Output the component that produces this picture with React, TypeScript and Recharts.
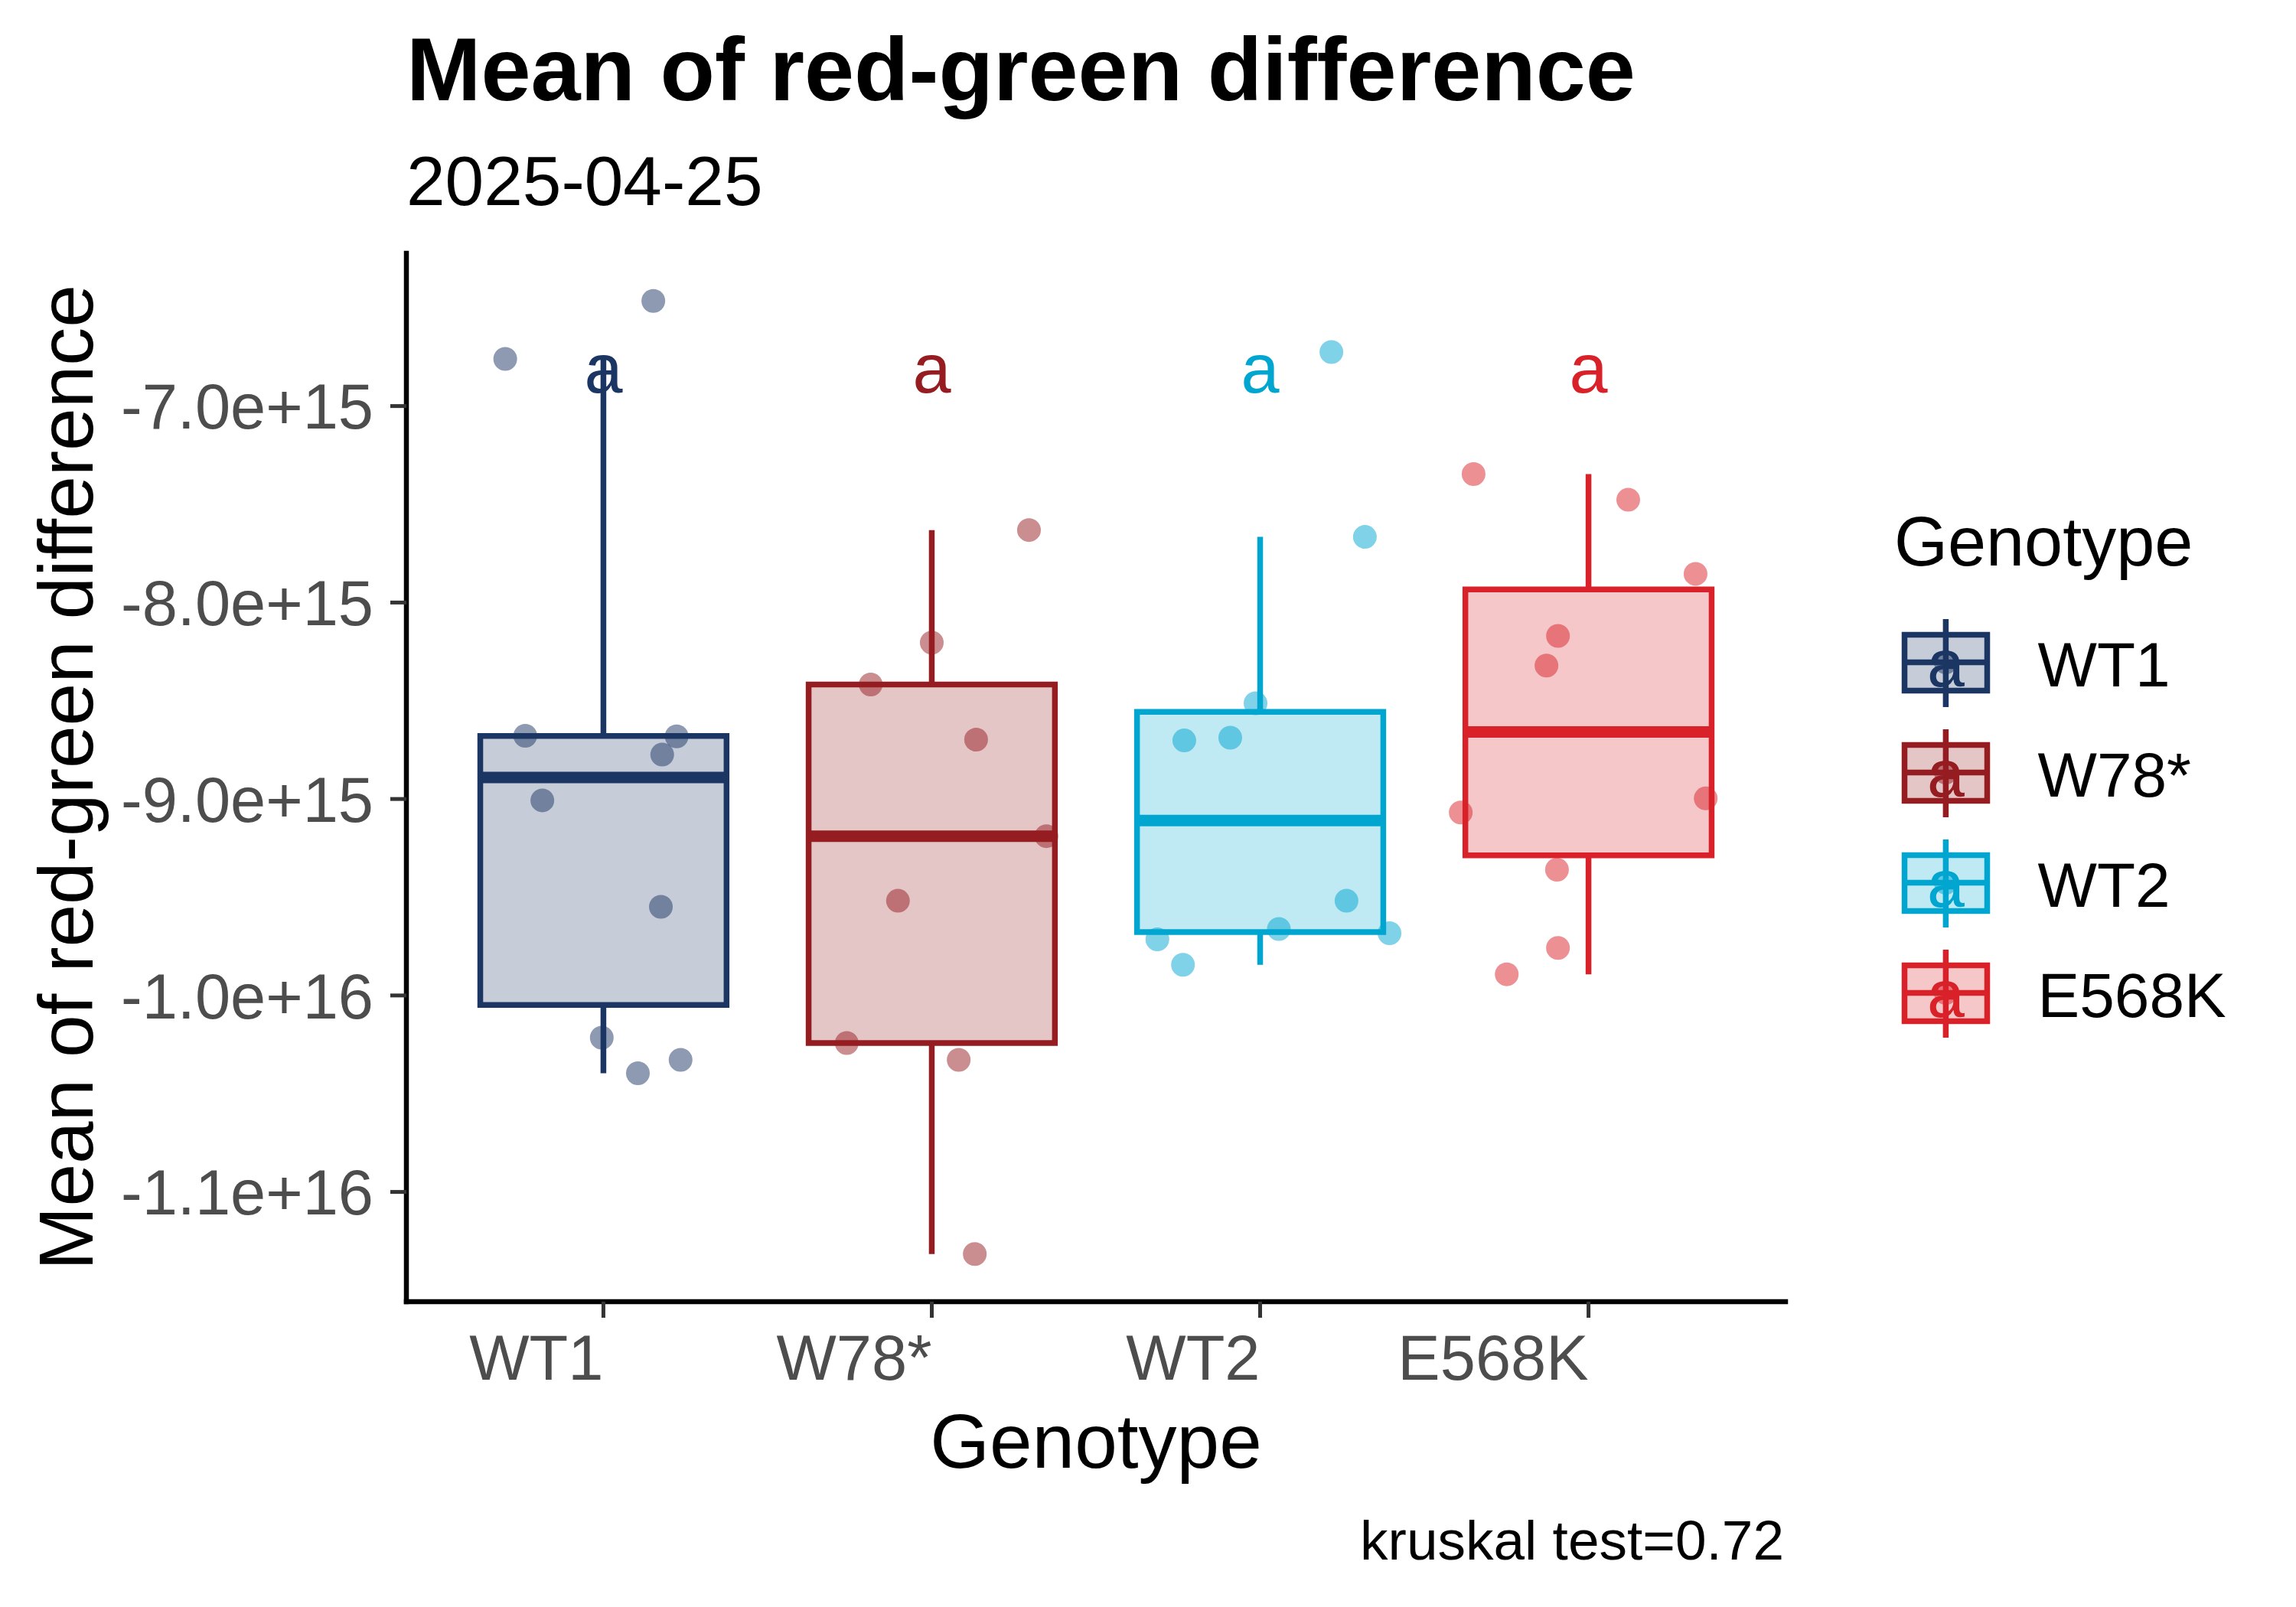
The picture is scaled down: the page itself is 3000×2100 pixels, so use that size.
import React from 'react';
import { ComposedChart, XAxis, YAxis, Scatter, ReferenceArea, ReferenceLine, Legend } from 'recharts';

const FONT = "'Liberation Sans', Arial, sans-serif";

const genotypes = ['WT1', 'W78*', 'WT2', 'E568K'];
const colors = ['#1c3664', '#951c21', '#00a6cf', '#d92129'];
const letters = ['a', 'a', 'a', 'a'];

// values in units of 1e15, jitter offsets in category units
const wt1Values = [-6.76, -6.465, -8.678, -8.681, -8.774, -9.007, -9.549, -10.215, -10.396, -10.328];
const wt1Jitter = [-0.299, 0.152, -0.238, 0.223, 0.179, -0.186, 0.175, -0.005, 0.105, 0.235];
const w78Values = [-7.631, -8.204, -8.417, -8.698, -9.189, -9.518, -10.242, -10.328, -11.316];
const w78Jitter = [0.296, 0.0, -0.186, 0.135, 0.349, -0.103, -0.259, 0.082, 0.131];
const wt2Values = [-6.725, -7.666, -8.513, -8.702, -8.688, -9.518, -9.662, -9.714, -9.683, -9.844];
const wt2Jitter = [0.217, 0.319, -0.014, -0.231, -0.091, 0.263, 0.057, -0.313, 0.394, -0.235];
const e568kValues = [-7.346, -7.477, -7.854, -8.17, -8.321, -9.069, -8.997, -9.36, -9.758, -9.892];
const e568kJitter = [-0.35, 0.121, 0.326, -0.093, -0.128, -0.389, 0.357, -0.096, -0.093, -0.249];

const groupValues = [wt1Values, w78Values, wt2Values, e568kValues];
const groupJitter = [wt1Jitter, w78Jitter, wt2Jitter, e568kJitter];

const UNIT = 1e15;
const letterY = -6.93e15;
const yTicks = [-7e15, -8e15, -9e15, -1e16, -1.1e16];
const xTicks = [1, 2, 3, 4];
const kruskalP = 0.72;

const BOX_HALF = 0.375;

function quantile7(sorted: number[], p: number) {
  const h = (sorted.length - 1) * p;
  const lo = Math.floor(h);
  const next = sorted[Math.min(lo + 1, sorted.length - 1)];
  return sorted[lo] + (h - lo) * (next - sorted[lo]);
}

function boxStats(values: number[]) {
  const s = values.map((v) => v * UNIT).sort((a, b) => a - b);
  const q1 = quantile7(s, 0.25);
  const med = quantile7(s, 0.5);
  const q3 = quantile7(s, 0.75);
  const iqr = q3 - q1;
  const lo = s.find((v) => v >= q1 - 1.5 * iqr) as number;
  const hi = [...s].reverse().find((v) => v <= q3 + 1.5 * iqr) as number;
  return { q1, med, q3, lo, hi };
}

const stats = groupValues.map(boxStats);
const points = groupValues.map((vals, g) =>
  vals.map((v, i) => ({ x: g + 1 + groupJitter[g][i], y: v * UNIT }))
);

// ggplot-like 5% expansion of the y range
const allY = groupValues.flat().map((v) => v * UNIT);
const yMinData = Math.min(...allY);
const yMaxData = Math.max(...allY);
const yPad = (yMaxData - yMinData) * 0.05;
const yDomain = [yMinData - yPad, yMaxData + yPad];

const sans = { fontFamily: FONT };

const XTick = (props: any) => {
  const { x, y, payload } = props;
  return (
    <text x={x} y={y} dy="0.716em" textAnchor="end" fontSize={83} style={sans} fill="#4d4d4d">
      {genotypes[payload.value - 1]}
    </text>
  );
};

const YTick = (props: any) => {
  const { x, y, payload } = props;
  return (
    <text x={x} y={y} dy="0.358em" textAnchor="end" fontSize={83} style={sans} fill="#4d4d4d">
      {Number(payload.value).toExponential(1)}
    </text>
  );
};

const GenotypeLegend = () => (
  <svg width={600} height={800} style={{ display: 'block', overflow: 'visible' }}>
    <text x={75} y={139} fontSize={90} style={sans} fill="#000">Genotype</text>
    {genotypes.map((g, i) => {
      const oy = 144 * i;
      const c = colors[i];
      return (
        <g key={g}>
          <line x1={142.4} x2={142.4} y1={209 + oy} y2={324 + oy} stroke={c} strokeWidth={7.5} />
          <rect x={88.5} y={229.5 + oy} width={108} height={73} fill={c} fillOpacity={0.25} stroke={c} strokeWidth={7.5} />
          <line x1={88.5} x2={196.5} y1={265.5 + oy} y2={265.5 + oy} stroke={c} strokeWidth={7.5} />
          <circle cx={142.4} cy={265.5 + oy} r={15.5} fill={c} fillOpacity={0.5} />
          <text x={142.4} y={297 + oy} textAnchor="middle" fontSize={88} style={sans} fill={c}>{letters[i]}</text>
          <text x={262.5} y={297.4 + oy} fontSize={82} style={sans} fill="#000">{g}</text>
        </g>
      );
    })}
  </svg>
);

export default function App() {
  return (
    <div style={{ position: 'absolute', left: 0, top: 0, width: 3000, height: 2100, background: '#fff' }}>
      <ComposedChart width={3000} height={2100} margin={{ top: 331, right: 667, bottom: 0, left: 0 }}>
        <XAxis
          type="number"
          dataKey="x"
          domain={[0.4, 4.6]}
          ticks={xTicks}
          allowDataOverflow
          height={399}
          axisLine={{ stroke: '#000', strokeWidth: 6.5, strokeLinecap: 'square' }}
          tickLine={{ stroke: '#333', strokeWidth: 5 }}
          tickSize={21}
          tickMargin={22}
          tick={<XTick />}
          label={{
            content: (p: any) => {
              const vb = p.viewBox || { x: 531, y: 1701, width: 1802 };
              return (
                <text x={vb.x + vb.width / 2} y={vb.y + 217} textAnchor="middle" fontSize={100} style={sans} fill="#000">
                  Genotype
                </text>
              );
            },
          }}
        />
        <YAxis
          type="number"
          dataKey="y"
          domain={yDomain}
          ticks={yTicks}
          allowDataOverflow
          width={531}
          axisLine={{ stroke: '#000', strokeWidth: 6.5, strokeLinecap: 'square' }}
          tickLine={{ stroke: '#333', strokeWidth: 5 }}
          tickSize={21}
          tickMargin={22}
          tick={<YTick />}
          label={{
            content: (p: any) => {
              const vb = p.viewBox || { x: 0, y: 331, height: 1370 };
              const cx = vb.x + 121;
              const cy = vb.y + vb.height / 2;
              return (
                <text x={cx} y={cy} transform={`rotate(-90, ${cx}, ${cy})`} textAnchor="middle" fontSize={100} style={sans} fill="#000">
                  Mean of red-green difference
                </text>
              );
            },
          }}
        />
        {stats.map((s, i) => (
          <ReferenceArea
            key={`box-${i}`}
            x1={i + 1 - BOX_HALF}
            x2={i + 1 + BOX_HALF}
            y1={s.q1}
            y2={s.q3}
            fill={colors[i]}
            fillOpacity={0.25}
            stroke={colors[i]}
            strokeWidth={7.5}
            strokeOpacity={1}
            ifOverflow="visible"
          />
        ))}
        {stats.map((s, i) => (
          <ReferenceLine
            key={`wu-${i}`}
            segment={[{ x: i + 1, y: s.q3 }, { x: i + 1, y: s.hi }]}
            stroke={colors[i]}
            strokeWidth={7.5}
            ifOverflow="visible"
          />
        ))}
        {stats.map((s, i) => (
          <ReferenceLine
            key={`wl-${i}`}
            segment={[{ x: i + 1, y: s.lo }, { x: i + 1, y: s.q1 }]}
            stroke={colors[i]}
            strokeWidth={7.5}
            ifOverflow="visible"
          />
        ))}
        {stats.map((s, i) => (
          <ReferenceLine
            key={`med-${i}`}
            segment={[{ x: i + 1 - BOX_HALF, y: s.med }, { x: i + 1 + BOX_HALF, y: s.med }]}
            stroke={colors[i]}
            strokeWidth={15}
            ifOverflow="visible"
          />
        ))}
        {points.map((pts, i) => (
          <Scatter
            key={`pts-${i}`}
            name={genotypes[i]}
            data={pts}
            isAnimationActive={false}
            shape={(p: any) => <circle cx={p.cx} cy={p.cy} r={15.5} fill={colors[i]} fillOpacity={0.5} />}
          />
        ))}
        {letters.map((l, i) => (
          <Scatter
            key={`let-${i}`}
            data={[{ x: i + 1, y: letterY }]}
            isAnimationActive={false}
            legendType="none"
            shape={(p: any) => (
              <text x={p.cx} y={p.cy} textAnchor="middle" fontSize={90} style={sans} fill={colors[i]}>
                {l}
              </text>
            )}
          />
        ))}
        <Legend
          layout="horizontal"
          verticalAlign="middle"
          align="center"
          content={() => <GenotypeLegend />}
          wrapperStyle={{ position: 'absolute', left: 2400, top: 600, width: 600, height: 800 }}
        />
      </ComposedChart>
      <svg width={3000} height={2100} style={{ position: 'absolute', left: 0, top: 0, pointerEvents: 'none' }}>
        <text x={531} y={131} fontSize={117} fontWeight="bold" style={sans} fill="#000">
          Mean of red-green difference
        </text>
        <text x={531} y={268} fontSize={91} style={sans} fill="#000">
          2025-04-25
        </text>
        <text x={2331} y={2038} textAnchor="end" fontSize={73} style={sans} fill="#000">
          {`kruskal test=${kruskalP}`}
        </text>
      </svg>
    </div>
  );
}
